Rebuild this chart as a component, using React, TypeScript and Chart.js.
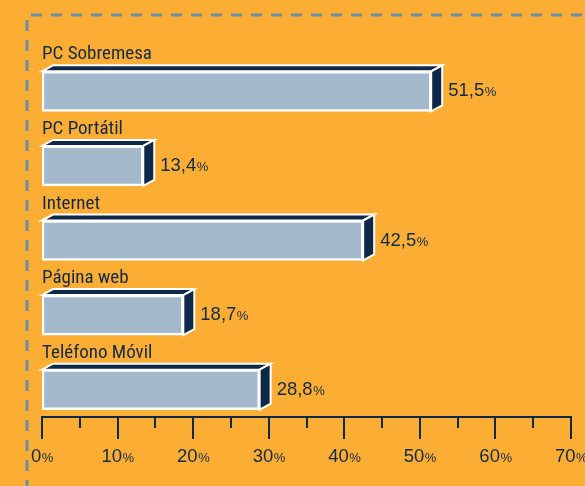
import React, { useEffect, useRef } from "react";
import { Chart, registerables } from "chart.js";

Chart.register(...registerables);

const categories = ["PC Sobremesa", "PC Portátil", "Internet", "Página web", "Teléfono Móvil"];
const values = [51.5, 13.4, 42.5, 18.7, 28.8];
const valueLabels = ["51,5", "13,4", "42,5", "18,7", "28,8"];
const tickValues = [0, 10, 20, 30, 40, 50, 60, 70];
const minorTickValues = [5, 15, 25, 35, 45, 55, 65];

const BG = "#FBAE33";
const NAVY = "#0E2847";
const TEXT = "#15294A";
const BAR = "#A4B9CC";
const DASH = "#6F8DA6";
const LABEL_FONT = "'Liberation Sans Narrow', 'Roboto Condensed', 'Liberation Sans', sans-serif";
const NUM_FONT = "'Liberation Sans', Arial, sans-serif";

const decorPlugin = {
  id: "decor",
  beforeDraw(chart: any) {
    const ctx = chart.ctx;
    ctx.save();
    ctx.fillStyle = BG;
    ctx.fillRect(0, 0, chart.width, chart.height);
    ctx.strokeStyle = DASH;
    ctx.lineWidth = 3;
    ctx.setLineDash([11, 9]);
    ctx.beginPath();
    ctx.moveTo(27, chart.height + 5);
    ctx.lineTo(27, 15);
    ctx.lineTo(chart.width + 5, 15);
    ctx.stroke();
    ctx.setLineDash([]);
    ctx.restore();
  },
  afterDatasetsDraw(chart: any) {
    const ctx = chart.ctx;
    const meta = chart.getDatasetMeta(0);
    const dx = 11;
    const dy = 6;
    ctx.save();
    meta.data.forEach((bar: any, i: number) => {
      const p = bar.getProps(["x", "y", "base", "height"], true);
      const x0 = p.base;
      const x1 = p.x;
      const top = p.y - p.height / 2;
      const bottom = p.y + p.height / 2;
      ctx.fillStyle = NAVY;
      ctx.strokeStyle = "#ffffff";
      ctx.lineWidth = 2;
      ctx.lineJoin = "miter";
      ctx.beginPath();
      ctx.moveTo(x0, top);
      ctx.lineTo(x0 + dx, top - dy);
      ctx.lineTo(x1 + dx, top - dy);
      ctx.lineTo(x1, top);
      ctx.closePath();
      ctx.fill();
      ctx.stroke();
      ctx.beginPath();
      ctx.moveTo(x1, top);
      ctx.lineTo(x1 + dx, top - dy);
      ctx.lineTo(x1 + dx, bottom - dy);
      ctx.lineTo(x1, bottom);
      ctx.closePath();
      ctx.fill();
      ctx.stroke();

      ctx.fillStyle = TEXT;
      ctx.textAlign = "left";
      ctx.textBaseline = "alphabetic";
      ctx.font = `19px ${LABEL_FONT}`;
      ctx.fillText(categories[i], x0, top - 12);

      const vx = x1 + dx + 6;
      const vy = p.y + 5;
      ctx.font = `18.5px ${NUM_FONT}`;
      ctx.fillText(valueLabels[i], vx, vy);
      const w = ctx.measureText(valueLabels[i]).width;
      ctx.font = `13px ${NUM_FONT}`;
      ctx.fillText("%", vx + w + 0.5, vy);
    });

    const xs = chart.scales.x;
    const area = chart.chartArea;
    const axisY = area.bottom - 10;
    ctx.strokeStyle = NAVY;
    ctx.lineWidth = 2;
    ctx.beginPath();
    ctx.moveTo(xs.getPixelForValue(tickValues[0]) - 1, axisY);
    ctx.lineTo(xs.getPixelForValue(tickValues[tickValues.length - 1]) + 1, axisY);
    ctx.stroke();
    ctx.lineWidth = 2;
    tickValues.forEach((v) => {
      const x = Math.round(xs.getPixelForValue(v));
      ctx.beginPath();
      ctx.moveTo(x, axisY);
      ctx.lineTo(x, axisY + 22);
      ctx.stroke();
    });
    minorTickValues.forEach((v) => {
      const x = Math.round(xs.getPixelForValue(v));
      ctx.beginPath();
      ctx.moveTo(x, axisY);
      ctx.lineTo(x, axisY + 11);
      ctx.stroke();
    });
    ctx.fillStyle = TEXT;
    ctx.textBaseline = "alphabetic";
    ctx.textAlign = "left";
    tickValues.forEach((v) => {
      const x = xs.getPixelForValue(v);
      const num = String(v);
      ctx.font = `18.5px ${NUM_FONT}`;
      const w1 = ctx.measureText(num).width;
      ctx.font = `13px ${NUM_FONT}`;
      const w2 = ctx.measureText("%").width;
      const start = x - (w1 + w2) / 2;
      ctx.font = `18.5px ${NUM_FONT}`;
      ctx.fillText(num, start, axisY + 45);
      ctx.font = `13px ${NUM_FONT}`;
      ctx.fillText("%", start + w1 + 0.5, axisY + 45);
    });
    ctx.restore();
  },
};

export default function App() {
  const canvasRef = useRef<HTMLCanvasElement | null>(null);

  useEffect(() => {
    const canvas = canvasRef.current;
    if (!canvas) return;
    const chart = new Chart(canvas, {
      type: "bar",
      data: {
        labels: categories,
        datasets: [
          {
            data: values,
            backgroundColor: BAR,
            borderColor: "#ffffff",
            borderWidth: 2.5,
            borderSkipped: false,
            barThickness: 40,
          },
        ],
      },
      options: {
        indexAxis: "y",
        responsive: false,
        animation: false,
        events: [],
        layout: { padding: { left: 42, right: 14, top: 54, bottom: 59 } },
        plugins: {
          legend: { display: false },
          tooltip: { enabled: false },
          title: { display: false },
        },
        scales: {
          x: { type: "linear", min: 0, max: 70, display: false },
          y: { type: "category", display: false, offset: true },
        },
      },
      plugins: [decorPlugin],
    } as any);
    return () => chart.destroy();
  }, []);

  return (
    <div style={{ position: "fixed", left: 0, top: 0, width: 585, height: 486 }}>
      <canvas ref={canvasRef} width={585} height={486} style={{ display: "block" }} />
    </div>
  );
}
